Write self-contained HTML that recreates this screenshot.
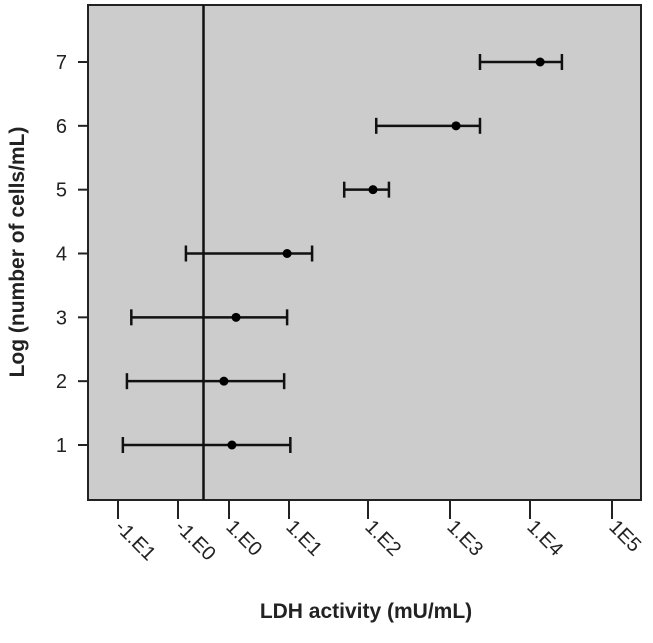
<!DOCTYPE html>
<html><head><meta charset="utf-8"><style>
body{margin:0;background:#fff;}
svg text{font-family:"Liberation Sans",sans-serif;}
</style></head><body>
<svg id="c" width="653" height="638"></svg>
<script>
const categories=[1,2,3,4,5,6,7];
const centers=[1.12,0.8,1.31,9.3,115,1190,13300];
const lows=[-8.3,-7.1,-6.0,-0.69,50,126,2370];
const highs=[10.4,8.3,9.3,19.6,180,2370,24500];
const xTickValues=[-10,-1,1,10,100,1000,10000,100000];
const xTickLabels=["-1.E1","-1.E0","1.E0","1.E1","1.E2","1.E3","1.E4","1E5"];
const yTicks=[1,2,3,4,5,6,7];
const refLine=0;

const NS="http://www.w3.org/2000/svg";
const svg=document.getElementById('c');
const L=88,R=641,T=5,B=500;
const xAnchorPx=[118,178,229,289,368,450,530,612];
function tr(v){return v>=1?Math.log10(v)+1:(v<=-1?-(Math.log10(-v)+1):v);}
const anchT=xTickValues.map(tr);
function xs(v){const t=tr(v);let i=0;while(i<anchT.length-2&&t>anchT[i+1])i++;
 return xAnchorPx[i]+(t-anchT[i])/(anchT[i+1]-anchT[i])*(xAnchorPx[i+1]-xAnchorPx[i]);}
function ys(v){return 445+(v-1)*(62-445)/6;}
function el(tag,a,txt){const e=document.createElementNS(NS,tag);for(const k in a)e.setAttribute(k,a[k]);if(txt!==undefined)e.textContent=txt;svg.appendChild(e);return e;}

let e=el('rect',{x:L,y:T,width:R-L,height:B-T,fill:'#cccccc',stroke:'#222','stroke-width':2});


e=el('line',{x1:xs(refLine),x2:xs(refLine),y1:T,y2:B,stroke:'#111','stroke-width':2.5});



yTicks.forEach(v=>{
 const y=ys(v);
 e=el('line',{x1:L-10,x2:L,y1:y,y2:y,stroke:'#222','stroke-width':2});
 
 
 e=el('text',{x:67,y:y+7,'font-size':20,'text-anchor':'end',fill:'#222'},String(v));
 
 
});
xTickValues.forEach((v,i)=>{
 const x=xs(v);
 e=el('line',{x1:x,x2:x,y1:B,y2:B+19,stroke:'#222','stroke-width':2});
 
 
 e=el('text',{x:0,y:0,'font-size':20,fill:'#222',transform:`translate(${x-4},${B+28}) rotate(45)`},xTickLabels[i]);
 
 
});
categories.forEach((c,i)=>{
 const y=ys(c),x1=xs(lows[i]),x2=xs(highs[i]);
 e=el('line',{x1:x1,x2:x2,y1:y,y2:y,stroke:'#111','stroke-width':2.5});
 
 
 [x1,x2].forEach(x=>{e=el('line',{x1:x,x2:x,y1:y-8,y2:y+8,stroke:'#111','stroke-width':2.5});
  
  });
 e=el('circle',{cx:xs(centers[i]),cy:y,r:4.5,fill:'#000'});
 
 
});
e=el('text',{x:366,y:618,'font-size':21,'font-weight':'bold','text-anchor':'middle',fill:'#222'},'LDH activity (mU/mL)');


e=el('text',{x:0,y:0,'font-size':21,'font-weight':'bold','text-anchor':'middle',fill:'#222',transform:'translate(24,252) rotate(-90)'},'Log (number of cells/mL)');


</script>
</body></html>
